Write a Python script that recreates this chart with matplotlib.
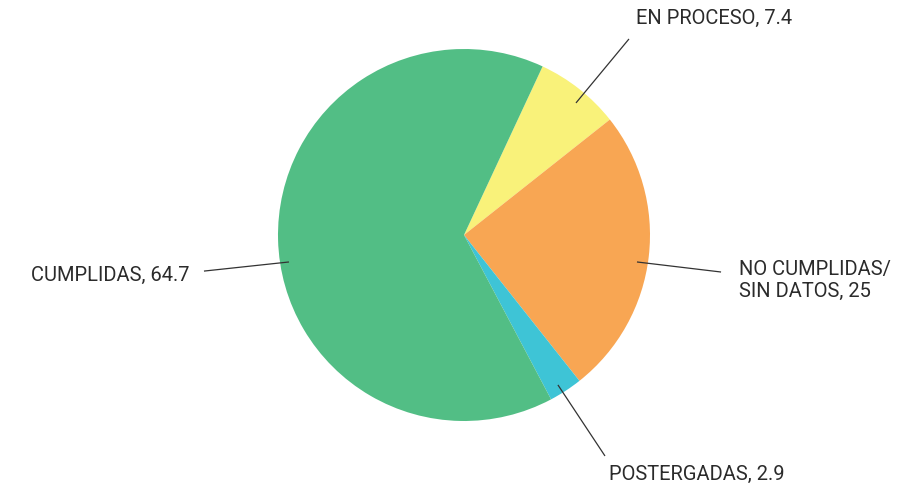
import matplotlib
matplotlib.use("Agg")
import matplotlib.pyplot as plt

categories = ["EN PROCESO", "NO CUMPLIDAS/\nSIN DATOS", "POSTERGADAS", "CUMPLIDAS"]
values = [7.4, 25, 2.9, 64.7]
value_labels = ["7.4", "25", "2.9", "64.7"]
colors = ["#F9F27A", "#F8A653", "#3EC4D6", "#52BE85"]

# label layout (pie units: center 0,0 radius 1)
line_start = [(0.602, 0.710), (0.930, -0.145), (0.505, -0.806), (-0.941, -0.145)]
line_end = [(0.887, 1.054), (1.382, -0.199), (0.758, -1.188), (-1.398, -0.194)]
text_pos = [(0.925, 1.172), (1.478, -0.239), (0.780, -1.280), (-1.478, -0.210)]
text_ha = ["left", "left", "left", "right"]

fig = plt.figure(figsize=(9.08, 4.89), dpi=100)
ax = fig.add_axes([0, 0, 1, 1])
ax.pie(values, colors=colors, startangle=90 - 25.0, counterclock=False,
       radius=1.0, center=(0, 0), wedgeprops=dict(linewidth=0))
ax.set_xlim(-464 / 186, (908 - 464) / 186)
ax.set_ylim(-(489 - 236) / 186, 236 / 186)
ax.set_aspect("auto")
ax.axis("off")

for cat, vl, s, e, t, ha in zip(categories, value_labels, line_start, line_end, text_pos, text_ha):
    ax.plot([s[0], e[0]], [s[1], e[1]], color="#333333", lw=0.9, solid_capstyle="butt")
    ax.text(t[0], t[1], f"{cat}, {vl}", ha=ha, va="center", fontsize=14.5,
            family="Roboto", color="#2b2b2b", linespacing=1.2)

fig.savefig("out.png", dpi=100)
